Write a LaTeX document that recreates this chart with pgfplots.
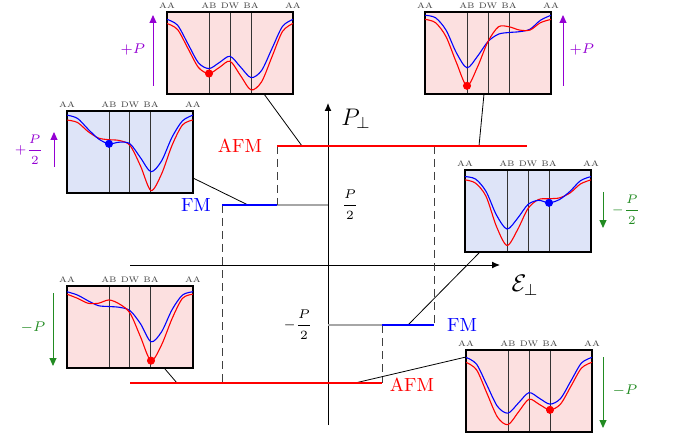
\documentclass[border=0pt]{standalone}
\usepackage{fix-cm}
\usepackage{fontspec}
\usepackage{pgfplots}
\usepackage{pgfplotstable}
\pgfplotsset{compat=1.18}
\usetikzlibrary{arrows.meta}

\definecolor{afmRed}{RGB}{255,0,0}
\definecolor{fmBlue}{RGB}{0,0,255}
\definecolor{upPurple}{RGB}{148,0,211}
\definecolor{downGreen}{RGB}{34,139,34}
\definecolor{bgPink}{RGB}{252,224,224}
\definecolor{bgBlue}{RGB}{222,228,248}

% energy profiles along AA-AB-DW-BA-AA (b = blue, r = red), 0..100 scale
\pgfplotstableread{
x   b    r
0   91   86
0.5 84   78.7
1   61   55.5
1.5 38   32.3
2   31   25
2.5 38.5 32.5
3   46   40
3.5 33   22.5
4   20   5
4.5 28.5 14.7
5   55.5 45.5
5.5 82.5 76.3
6   91   86
}\insetA
\pgfplotstableread{
x   b  r
0   95 89
0.5 91 86
1   78 75
1.5 66 67
2   60 65
2.5 62 64
3   60 58
3.5 43 33
4   26 3
4.5 39 23
5   68 58
5.5 88 83
6   95 89
}\insetB
\pgfplotstableread{
x   b  r
0   96 91
0.5 93 87
1   78 70
1.5 50 38
2   32 10
2.5 46 33
3   64 64
3.5 73 82
4   75 82
4.5 76 78
5   79 78
5.5 90 87
6   96 91
}\insetC
\pgfplotstableread{
x   b  r
0   92 88
0.5 89 84
1   74 68
1.5 45 31
2   28 8
2.5 41 27
3   58 53
3.5 63 64
4   60 65
4.5 64 66
5   74 72
5.5 87 83
6   92 88
}\insetD
\pgfplotstableread{
x   b  r
0   93 90
0.5 89 85
1   82 79
1.5 76 79
2   75 83
2.5 74 78
3   70 67
3.5 54 38
4   32 9
4.5 44 28
5   71 60
5.5 89 85
6   93 90
}\insetE
\pgfplotstableread{
x   b    r
0   91   85
0.5 82.8 75.9
1   57   47
1.5 31.2 18.1
2   23   9
2.5 35.5 24.5
3   48   40
3.5 41   33.5
4   34   27
4.5 40.8 34
5   62.5 56
5.5 84.2 78
6   91   85
}\insetF

\pgfplotsset{
  inset/.style={
    width=63pt, height=41pt, scale only axis, anchor=south west,
    xmin=0, xmax=6, ymin=0, ymax=100,
    xtick={0,2,3,4,6}, xticklabels={AA,AB,DW,BA,AA},
    xticklabel pos=upper, ytick=\empty,
    major tick length=0pt,
    xmajorgrids, grid style={black!80, line width=0.5pt},
    axis line style={line width=0.7pt},
    xticklabel style={font=\fontsize{4}{4}\selectfont, text=black!75, yshift=-1.8pt},
  },
  pinkbg/.style={axis background/.style={fill=bgPink}},
  bluebg/.style={axis background/.style={fill=bgBlue}},
  bcurve/.style={fmBlue, line width=0.55pt, smooth, no marks},
  rcurve/.style={afmRed, line width=0.55pt, smooth, no marks},
  dot/.style={only marks, mark=*, mark size=1.8pt},
}

\begin{document}
\begin{tikzpicture}

% canvas axis, units = pixels of the original (y measured upwards)
\begin{axis}[
    at={(0,0)}, anchor=south west,
    width=336.5pt, height=220.5pt, scale only axis,
    xmin=0, xmax=673, ymin=0, ymax=441,
    hide axis, clip=false
]
% axes
\addplot[black, line width=0.5pt, -{Latex[length=4pt,width=3.5pt]}]
  coordinates {(130,176) (500,176)};
\addplot[black, line width=0.5pt, -{Latex[length=4pt,width=3.5pt]}]
  coordinates {(328,16) (328,338)};

% guides
\addplot[gray!70, line width=0.6pt] coordinates {(277,236) (328,236)};
\addplot[gray!70, line width=0.6pt] coordinates {(328,116) (382,116)};
\addplot[black!75, line width=0.5pt, dash pattern=on 4pt off 2.5pt] coordinates {(277,295) (277,236)};
\addplot[black!75, line width=0.5pt, dash pattern=on 4pt off 2.5pt] coordinates {(222,236) (222,58)};
\addplot[black!75, line width=0.5pt, dash pattern=on 4pt off 2.5pt] coordinates {(434,295) (434,116)};
\addplot[black!75, line width=0.5pt, dash pattern=on 4pt off 2.5pt] coordinates {(382,116) (382,58)};

% connectors
\addplot[black, line width=0.4pt] coordinates {(264,347) (302,295)};
\addplot[black, line width=0.4pt] coordinates {(193,263) (248,236)};
\addplot[black, line width=0.4pt] coordinates {(484,347) (479,295)};
\addplot[black, line width=0.4pt] coordinates {(479,188) (408,116)};
\addplot[black, line width=0.4pt] coordinates {(165,72) (177,58)};
\addplot[black, line width=0.4pt] coordinates {(466,84) (355,58)};

% branches
\addplot[afmRed, line width=1.1pt] coordinates {(277,295) (527,295)};
\addplot[fmBlue, line width=1.1pt] coordinates {(222,236) (277,236)};
\addplot[fmBlue, line width=1.1pt] coordinates {(382,116) (434,116)};
\addplot[afmRed, line width=1.1pt] coordinates {(130,58) (382,58)};

% polarization arrows
\addplot[upPurple, line width=0.5pt, -{Triangle[length=4pt,width=3.5pt]}] coordinates {(153,355) (153,426)};
\addplot[upPurple, line width=0.5pt, -{Triangle[length=4pt,width=3.5pt]}] coordinates {(54,274) (54,309)};
\addplot[upPurple, line width=0.5pt, -{Triangle[length=4pt,width=3.5pt]}] coordinates {(563,355) (563,426)};
\addplot[downGreen, line width=0.5pt, -{Triangle[length=4pt,width=3.5pt]}] coordinates {(603,249) (603,213)};
\addplot[downGreen, line width=0.5pt, -{Triangle[length=4pt,width=3.5pt]}] coordinates {(53,148) (53,75)};
\addplot[downGreen, line width=0.5pt, -{Triangle[length=4pt,width=3.5pt]}] coordinates {(603,84) (603,13)};

\node[upPurple, font=\fontsize{7}{8}\selectfont] at (axis cs:133,391) {$+P$};
\node[upPurple, font=\fontsize{6.2}{8}\selectfont] at (axis cs:29,291) {$\displaystyle+\frac{P}{2}$};
\node[upPurple, font=\fontsize{7}{8}\selectfont] at (axis cs:582,391) {$+P$};
\node[downGreen, font=\fontsize{6.2}{8}\selectfont] at (axis cs:626,231) {$\displaystyle-\frac{P}{2}$};
\node[downGreen, font=\fontsize{7}{8}\selectfont] at (axis cs:33,113) {$-P$};
\node[downGreen, font=\fontsize{7}{8}\selectfont] at (axis cs:625,50) {$-P$};

\node[afmRed, font=\fontsize{9.5}{11}\selectfont] at (axis cs:240,295) {AFM};
\node[fmBlue, font=\fontsize{9.5}{11}\selectfont] at (axis cs:196,236) {FM};
\node[fmBlue, font=\fontsize{9.5}{11}\selectfont] at (axis cs:462,116) {FM};
\node[afmRed, font=\fontsize{9.5}{11}\selectfont] at (axis cs:412,56) {AFM};
\node[font=\fontsize{6.3}{8}\selectfont] at (axis cs:350,236) {$\displaystyle\frac{P}{2}$};
\node[font=\fontsize{6.3}{8}\selectfont] at (axis cs:298,116) {$\displaystyle-\frac{P}{2}$};
\node[font=\fontsize{12}{14}\selectfont] at (axis cs:356,322) {$P_\perp$};
\node[font=\fontsize{12}{14}\selectfont] at (axis cs:525,156) {$\mathcal{E}_\perp$};
\end{axis}

% insets
\begin{axis}[inset, pinkbg, at={(83.5pt,173.5pt)}]
\addplot[bcurve] table[x=x,y=b] {\insetA};
\addplot[rcurve] table[x=x,y=r] {\insetA};
\addplot[dot, afmRed] coordinates {(2,25)};
\end{axis}

\begin{axis}[inset, bluebg, at={(33.5pt,124pt)}]
\addplot[rcurve] table[x=x,y=r] {\insetB};
\addplot[bcurve] table[x=x,y=b] {\insetB};
\addplot[dot, fmBlue] coordinates {(2,60)};
\end{axis}

\begin{axis}[inset, pinkbg, at={(212.5pt,173.5pt)}]
\addplot[bcurve] table[x=x,y=b] {\insetC};
\addplot[rcurve] table[x=x,y=r] {\insetC};
\addplot[dot, afmRed] coordinates {(2,10)};
\end{axis}

\begin{axis}[inset, bluebg, at={(232.5pt,94.5pt)}]
\addplot[rcurve] table[x=x,y=r] {\insetD};
\addplot[bcurve] table[x=x,y=b] {\insetD};
\addplot[dot, fmBlue] coordinates {(4,60)};
\end{axis}

\begin{axis}[inset, pinkbg, at={(33.5pt,36.5pt)}]
\addplot[bcurve] table[x=x,y=b] {\insetE};
\addplot[rcurve] table[x=x,y=r] {\insetE};
\addplot[dot, afmRed] coordinates {(4,9)};
\end{axis}

\begin{axis}[inset, pinkbg, at={(233pt,4.5pt)}]
\addplot[bcurve] table[x=x,y=b] {\insetF};
\addplot[rcurve] table[x=x,y=r] {\insetF};
\addplot[dot, afmRed] coordinates {(4,27)};
\end{axis}

% page = the 673 x 441 canvas of the canvas axis
\pgfresetboundingbox
\path (0,0) rectangle (336.5pt,220.5pt);
\end{tikzpicture}
\end{document}
